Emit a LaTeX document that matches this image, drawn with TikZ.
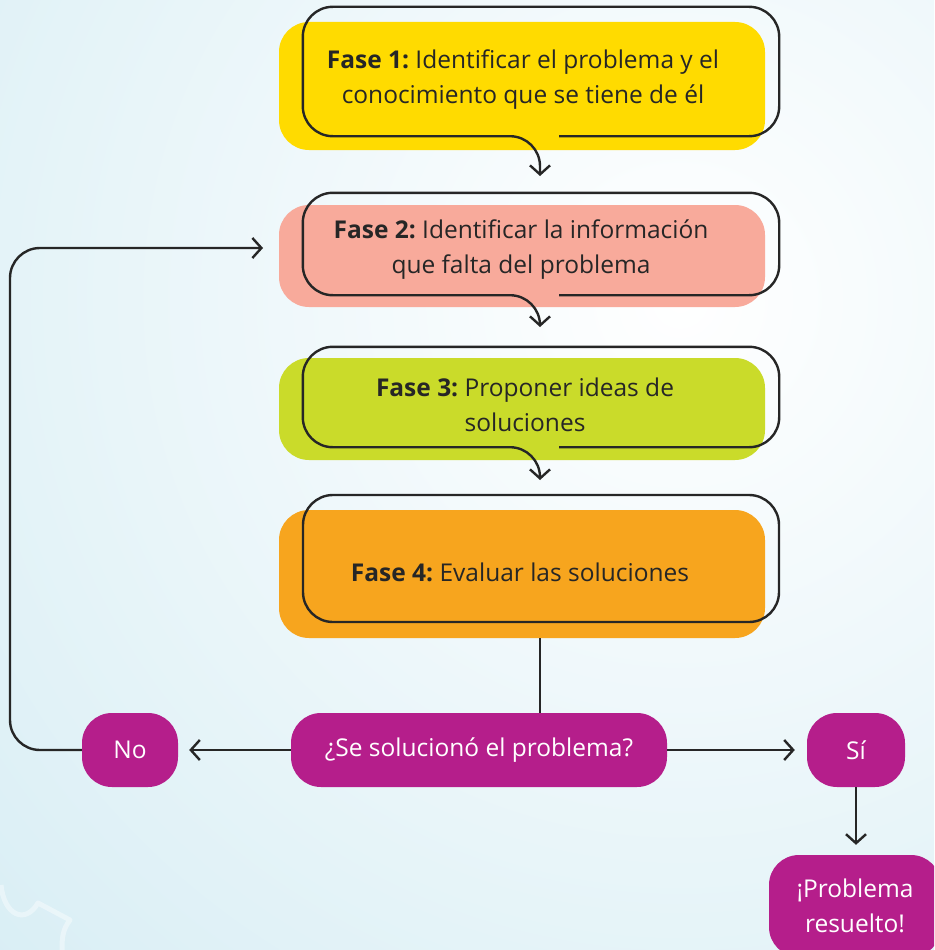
\documentclass[tikz,border=0pt]{standalone}
\usepackage{fontspec}
\setmainfont{Open Sans}
\usetikzlibrary{arrows.meta,calc}

\definecolor{amarillo}{RGB}{255,219,0}
\definecolor{salmon}{RGB}{248,170,155}
\definecolor{lima}{RGB}{202,219,42}
\definecolor{naranja}{RGB}{247,165,30}
\definecolor{morado}{RGB}{181,30,139}
\definecolor{tinta}{RGB}{38,38,38}
\definecolor{fondo}{RGB}{203,232,241}

\begin{document}
\begin{tikzpicture}[x=1pt,y=-1pt,
  fase/.style={rounded corners=30pt,minimum width=486pt,minimum height=#1,inner sep=0pt},
  contorno/.style={minimum width=476pt,minimum height=#1,inner sep=0pt},
  txt/.style={text=tinta,align=center,font=\fontsize{24.5}{35}\selectfont},
  caja/.style={fill=morado,rounded corners=30pt,text=white,align=center,inner sep=0pt,
    minimum height=74pt,font=\fontsize{24.5}{35}\selectfont},
  linea/.style={draw=tinta,line width=2.4pt},
  flecha/.style={linea,-{Straight Barb[length=9pt,width=20pt]}}]
\clip (0,0) rectangle (934,950);
% fondo
\fill[fondo] (0,0) rectangle (934,950);
\shade[inner color=white,outer color=fondo] (680,300) circle (1300);
\draw[white,opacity=.4,line width=5pt,line join=round] (1,885) .. controls (4,915) and (25,925) .. (38,903) -- (70,920) .. controls (62,930) and (62,940) .. (62,950);

% fases
\node[fase=128pt,fill=amarillo] (f1) at (522,86) {};
\node[fase=102pt,fill=salmon] (f2) at (522,256) {};
\node[fase=102pt,fill=lima] (f3) at (522,409) {};
\node[fase=128pt,fill=naranja] (f4) at (522,574) {};

\node[contorno=129pt] (o1) at (541,71.5) {};
\node[contorno=102pt] (o2) at (541,244) {};
\node[contorno=100pt] (o3) at (541,397) {};
\node[contorno=127pt,linea,rounded corners=30pt] (o4) at (541,558.5) {};

\node[txt] (t1) at (523,80) {\textbf{Fase 1:}~Identificar el problema y el\\conocimiento que se tiene de él};
\node[txt] (t2) at (521,250) {\textbf{Fase 2:}~Identificar la información\\que falta del problema};
\node[txt] (t3) at (525,405) {\textbf{Fase 3:}~Proponer ideas de\\soluciones};
\node[txt,anchor=base] (t4) at (520,581) {\textbf{Fase 4:}~Evaluar las soluciones};

\coordinate (p1) at (540,176);
\coordinate (p2) at (540,327);
\coordinate (p3) at (540,480);
\foreach \i in {1,2,3}
  \draw[flecha,rounded corners=30pt] ($(o\i.south)+(18,0)$) -- (o\i.south east) -- (o\i.north east)
    -- (o\i.north west) -- (o\i.south west) -| (p\i);

% pregunta
\node[caja,minimum width=96pt] (no) at (130,750) {No};
\node[caja,minimum width=376pt] (pregunta) at (479,750) {¿Se solucionó el problema?};
\node[caja,minimum width=98pt] (si) at (856,750) {Sí};
\node[caja,minimum width=172pt,minimum height=102pt] (fin) at (855,906) {¡Problema\\resuelto!};

\coordinate (baja) at (540,638);
\coordinate (vuelta) at (263,248);
\draw[linea] (baja) -- (baja |- pregunta.north);
\draw[flecha,shorten >=11pt] (pregunta) -- (no);
\draw[flecha,shorten >=12pt] (pregunta) -- (si);
\draw[flecha,shorten >=10pt] (si.south) -- (si.south |- fin.north);
\draw[flecha,rounded corners=30pt] (no.west) -| (10,248) -- (vuelta);
\end{tikzpicture}
\end{document}
